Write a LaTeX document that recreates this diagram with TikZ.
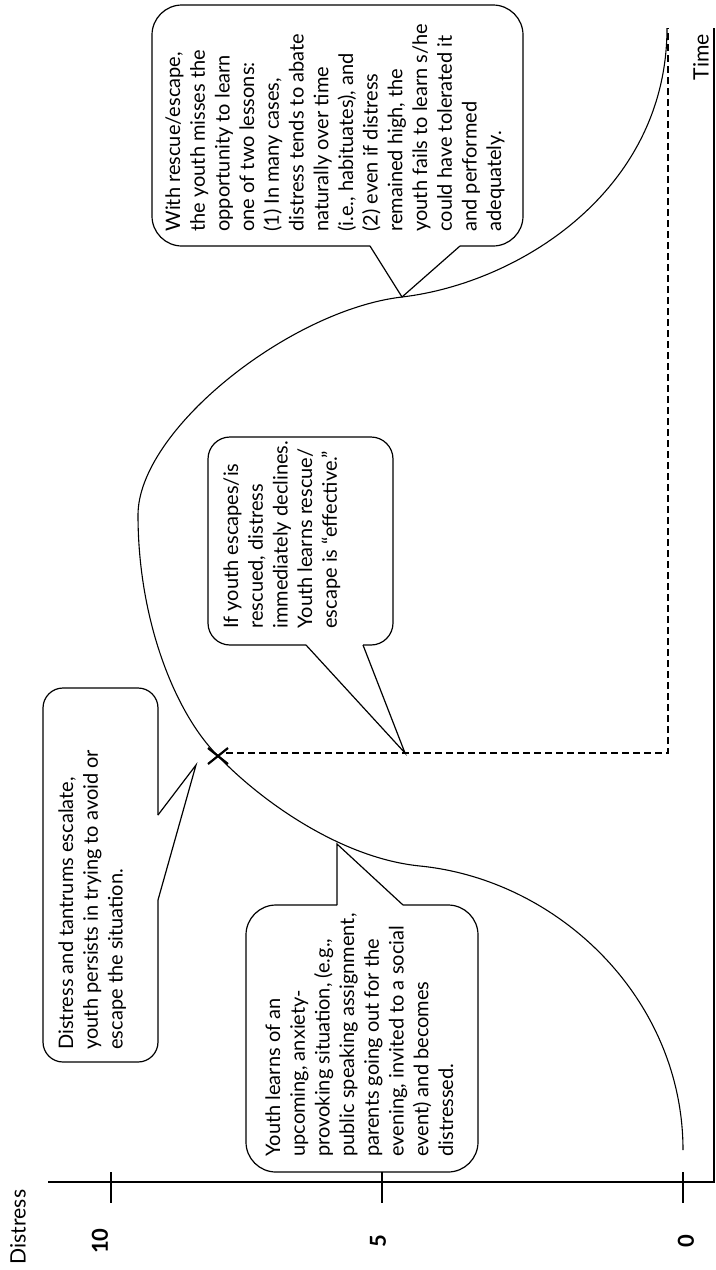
\documentclass[tikz,border=0pt]{standalone}
\usepackage{fontspec}
\setmainfont{Lato}
\begin{document}
\begin{tikzpicture}[x=0.5pt,y=-0.5pt,
  outline/.style={line width=0.6pt, line join=round},
  tailline/.style={line width=0.6pt, line join=miter},
  btext/.style={rotate=90, anchor=north west, align=left, inner sep=0pt,
    font=\fontsize{10}{12.35}\selectfont},
  axisline/.style={line width=1.4pt},
  ticklab/.style={rotate=90, inner sep=0pt, font=\bfseries\fontsize{11}{12}\selectfont},
  axislab/.style={rotate=90, inner sep=0pt, font=\fontsize{10.6}{12}\selectfont},
  curveline/.style={line width=0.55pt},
  guide/.style={line width=0.55pt, dash pattern=on 3.5pt off 2pt}]
\useasboundingbox (0,0) rectangle (716,1270);

% axes
\draw[axisline] (48,1182) -- (714,1182) -- (714,28);
\draw[axisline] (111,1172) -- (111,1203);
\draw[axisline] (382,1172) -- (382,1203);
\draw[axisline] (683,1172) -- (683,1203);
\node[axislab] (ylab) at (18,1227) {Distress};
\node[axislab] (xlab) at (701,57) {Time};
\node[ticklab] (t10) at (100,1241) {10};
\node[ticklab] (t5) at (378,1241) {5};
\node[ticklab] (t0) at (686,1241) {0};

% key points
\coordinate (start) at (683,1150);
\coordinate (X) at (218,756);
\coordinate (peak) at (138,515);
\coordinate (tipD) at (402,297);
\coordinate (endc) at (667,28);
\coordinate (drop) at (668,753);
\coordinate (tipC) at (405,753);

% distress curve
\draw[curveline] (start) .. controls (683,1000) and (560,880) .. (420,866)
  .. controls (340,858) and (260,800) .. (X)
  .. controls (175,713) and (138,620) .. (peak)
  .. controls (138,430) and (290,310) .. (tipD)
  .. controls (520,283) and (667,190) .. (endc);

% rescue / escape path
\draw[guide] (226,753) -- (drop) -- (668,28);
\draw[line width=1.1pt] (208,748) -- (228,764) (208,764) -- (228,748);

% bubble A
\draw[outline, rounded corners=15pt] (403,905) -- (478,905) -- (478,1172) -- (246,1172) -- (246,905) -- (337,905);
\draw[tailline] (337,905) -- (337,844) -- (403,905);
\node[btext] (tA) at (265,1157) {Youth learns of an\\upcoming, anxiety-\\provoking situation, (e.g.,\\public speaking assignment,\\parents going out for the\\evening, invited to a social\\event) and becomes\\distressed.};

% bubble B
\draw[outline, rounded corners=10pt] (158,900) -- (158,1062) -- (43,1062) -- (43,688) -- (158,688) -- (158,815);
\draw[tailline] (158,815) -- (196,765) -- (158,900);
\node[btext] (tB) at (58,1050) {Distress and tantrums escalate,\\youth persists in trying to avoid or\\escape the situation.};

% bubble C
\draw[outline, rounded corners=11pt] (363,645) -- (393,645) -- (393,437) -- (208,437) -- (208,645) -- (306,645);
\draw[tailline] (306,645) -- (tipC) -- (363,645);
\node[btext] (tC) at (223,629) {If youth escapes/is\\rescued, distress\\immediately declines.\\Youth learns rescue/\\escape is “effective.”};

% bubble D
\draw[outline, rounded corners=15pt] (460,246) -- (523,246) -- (523,5) -- (152,5) -- (152,246) -- (370,246);
\draw[tailline] (370,246) -- (tipD) -- (460,246);
\node[btext] (tD) at (165,232) {With rescue/escape,\\the youth misses the\\opportunity to learn\\one of two lessons:\\(1) In many cases,\\distress tends to abate\\naturally over time\\(i.e., habituates), and\\(2) even if distress\\remained high, the\\youth fails to learn s/he\\could have tolerated it\\and performed\\adequately.};
\end{tikzpicture}
\end{document}
